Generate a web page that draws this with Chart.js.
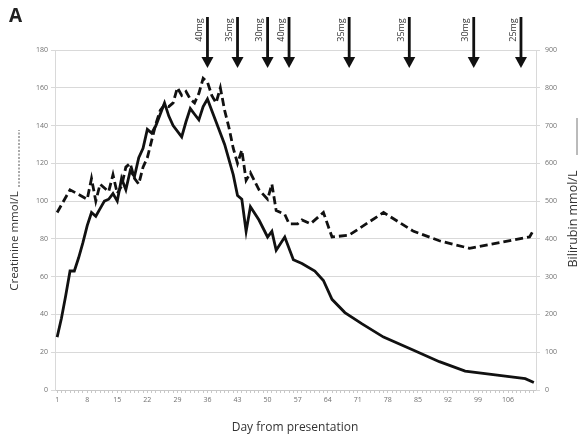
<!DOCTYPE html>
<html>
<head>
<meta charset="utf-8">
<script src="https://cdn.jsdelivr.net/npm/chart.js@4/dist/chart.umd.min.js"></script>
<style>
  html, body { margin: 0; padding: 0; background: #fff; }
  #wrap { width: 582px; height: 441px; position: relative; }
</style>
</head>
<body>
<div id="wrap"><canvas id="graficoDoentes"></canvas></div>
<script>
// ==========================
// 📊 DADOS
// ==========================
const xTicks = [1, 8, 15, 22, 29, 36, 43, 50, 57, 64, 71, 78, 85, 92, 99, 106];
const leftTicks = [0, 20, 40, 60, 80, 100, 120, 140, 160, 180];
const rightTicks = [0, 100, 200, 300, 400, 500, 600, 700, 800, 900];

// bilirrubina (linha contínua, eixo da direita)
const bilDays = [1, 2, 3, 4, 5, 6, 7, 8, 9, 10, 11, 12, 13, 14, 15, 16, 17, 18, 19, 20,
  21, 22, 23, 24, 25, 26, 27, 28, 30, 31, 32, 33, 34, 35, 36, 37, 38, 40, 42, 43,
  44, 45, 46, 48, 50, 51, 52, 54, 56, 58, 61, 63, 65, 68, 72, 77, 84, 90, 96, 103, 110, 112];
const bilValues = [140, 190, 250, 315, 315, 350, 390, 435, 470, 460, 480, 500, 505, 520, 500, 560, 530, 580, 565, 615,
  640, 690, 680, 700, 730, 760, 725, 700, 670, 710, 745, 730, 715, 750, 770, 740, 710, 650, 570, 515,
  505, 420, 485, 450, 405, 420, 370, 405, 345, 335, 315, 290, 240, 205, 175, 140, 105, 75, 50, 40, 30, 20];

// creatinina (linha tracejada, eixo da esquerda)
const creDays = [1, 4, 8, 9, 10, 11, 13, 14, 15, 16, 17, 18, 19, 20, 21, 22, 23, 24, 25, 26,
  27, 28, 29, 30, 31, 32, 33, 34, 35, 36, 37, 38, 39, 40, 41, 42, 43, 44, 45, 46,
  48, 50, 51, 52, 54, 55, 57, 58, 60, 63, 65, 69, 77, 84, 90, 97, 104, 111, 112];
const creValues = [94, 106, 101, 112, 100, 109, 105, 114, 104, 108, 118, 120, 112, 109, 118, 123, 132, 141, 148, 151,
  150, 152, 160, 156, 158, 154, 152, 157, 165, 163, 156, 152, 160, 148, 139, 128, 120, 127, 111, 115,
  106, 101, 109, 95, 93, 88, 88, 90, 88, 94, 81, 82, 94, 84, 79, 75, 78, 81, 85];

// doses (setas no topo)
const doseDays = [36, 43, 50, 55, 69, 83, 98, 109];
const doseLabels = ["40mg", "35mg", "30mg", "40mg", "35mg", "35mg", "30mg", "25mg"];

const FONTE = "'Open Sans', 'DejaVu Sans', sans-serif";

// ==========================
// ✏️ PLUGIN: setas, títulos
// ==========================
const anotacoesPlugin = {
  id: "anotacoes",
  afterDraw(chart) {
    const { ctx, chartArea, scales } = chart;
    const x = scales.x;
    ctx.save();

    // letra do painel
    ctx.fillStyle = "#222";
    ctx.font = "bold 19px " + FONTE;
    ctx.textAlign = "left";
    ctx.textBaseline = "top";
    ctx.fillText("A", 9, 7);

    // setas de dose
    doseDays.forEach((d, i) => {
      const px = x.getPixelForValue(d);
      const tip = chartArea.top + 18;
      ctx.strokeStyle = "#111";
      ctx.fillStyle = "#111";
      ctx.lineWidth = 2.8;
      ctx.beginPath();
      ctx.moveTo(px, 17);
      ctx.lineTo(px, tip - 8);
      ctx.stroke();
      ctx.beginPath();
      ctx.moveTo(px - 6, tip - 11);
      ctx.lineTo(px + 6, tip - 11);
      ctx.lineTo(px, tip);
      ctx.closePath();
      ctx.fill();

      ctx.save();
      ctx.translate(px - 8, 30);
      ctx.rotate(-Math.PI / 2);
      ctx.font = "9px " + FONTE;
      ctx.fillStyle = "#333";
      ctx.textAlign = "center";
      ctx.textBaseline = "middle";
      ctx.fillText(doseLabels[i], 0, 0);
      ctx.restore();
    });

    // título eixo esquerdo + traço
    ctx.save();
    ctx.translate(15, 241);
    ctx.rotate(-Math.PI / 2);
    ctx.font = "11.5px " + FONTE;
    ctx.fillStyle = "#333";
    ctx.textAlign = "center";
    ctx.textBaseline = "middle";
    ctx.fillText("Creatinine mmol/L", 0, 0);
    ctx.restore();
    ctx.strokeStyle = "#555";
    ctx.lineWidth = 1;
    ctx.setLineDash([2, 1.5]);
    ctx.beginPath();
    ctx.moveTo(19, 187);
    ctx.lineTo(19, 130);
    ctx.stroke();
    ctx.setLineDash([]);

    // título eixo direito + traço
    ctx.save();
    ctx.translate(573, 219);
    ctx.rotate(-Math.PI / 2);
    ctx.font = "12.5px " + FONTE;
    ctx.fillStyle = "#333";
    ctx.textAlign = "center";
    ctx.textBaseline = "middle";
    ctx.fillText("Bilirubin mmol/L", 0, 0);
    ctx.restore();
    ctx.strokeStyle = "#777";
    ctx.lineWidth = 1;
    ctx.beginPath();
    ctx.moveTo(577, 155);
    ctx.lineTo(577, 118);
    ctx.stroke();

    // título eixo x
    ctx.font = "12px " + FONTE;
    ctx.fillStyle = "#333";
    ctx.textAlign = "center";
    ctx.textBaseline = "middle";
    ctx.fillText("Day from presentation", 295, 428);

    ctx.restore();
  },
};

// ==========================
// 📈 GRÁFICO
// ==========================
function renderGrafico() {
  const canvas = document.getElementById("graficoDoentes");

  const tickFont = { family: FONTE, size: 7 };

  new Chart(canvas, {
    type: "line",
    data: {
      datasets: [
        {
          label: "Bilirubin",
          data: bilDays.map((d, i) => ({ x: d, y: bilValues[i] })),
          yAxisID: "y2",
          borderColor: "#111",
          borderWidth: 2.8,
          pointRadius: 0,
          tension: 0,
          fill: false,
        },
        {
          label: "Creatinine",
          data: creDays.map((d, i) => ({ x: d, y: creValues[i] })),
          yAxisID: "y",
          borderColor: "#111",
          borderWidth: 2.8,
          borderDash: [8, 4],
          pointRadius: 0,
          tension: 0,
          fill: false,
        },
      ],
    },
    options: {
      responsive: true,
      maintainAspectRatio: false,
      animation: false,
      layout: { padding: { top: 50, left: 0, right: 0, bottom: 0 } },
      plugins: {
        legend: { display: false },
        tooltip: { enabled: false },
      },
      scales: {
        x: {
          type: "linear",
          min: 0.5,
          max: 112.5,
          afterBuildTicks: (axis) => {
            axis.ticks = [];
            for (let d = 1; d <= 112; d++) axis.ticks.push({ value: d });
          },
          afterFit: (axis) => { axis.height = 51; },
          ticks: {
            autoSkip: false,
            maxRotation: 0,
            color: "#707070",
            font: tickFont,
            padding: 3,
            callback: (v) => (xTicks.includes(v) ? String(v) : ""),
          },
          grid: {
            drawOnChartArea: false,
            drawTicks: true,
            tickLength: 3,
            color: "#c8c8c8",
          },
          border: { color: "#c8c8c8" },
        },
        y: {
          position: "left",
          min: 0,
          max: 180,
          afterBuildTicks: (axis) => { axis.ticks = leftTicks.map((v) => ({ value: v })); },
          afterFit: (axis) => { axis.width = 55; },
          ticks: { color: "#707070", font: tickFont, padding: 3 },
          grid: { color: "#d9d9d9", tickLength: 4 },
          border: { color: "#d9d9d9" },
        },
        y2: {
          position: "right",
          min: 0,
          max: 900,
          afterBuildTicks: (axis) => { axis.ticks = rightTicks.map((v) => ({ value: v })); },
          afterFit: (axis) => { axis.width = 46; },
          ticks: { color: "#707070", font: tickFont, padding: 5 },
          grid: { drawOnChartArea: false, tickLength: 4, color: "#d9d9d9" },
          border: { color: "#d9d9d9" },
        },
      },
    },
    plugins: [anotacoesPlugin],
  });
}

renderGrafico();
</script>
</body>
</html>
